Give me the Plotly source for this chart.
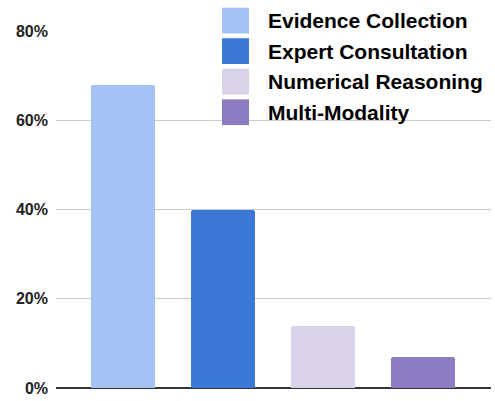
import plotly.graph_objects as go

categories = ["Evidence Collection", "Expert Consultation", "Numerical Reasoning", "Multi-Modality"]
values = [0.68, 0.40, 0.14, 0.07]
colors = ["#a4c2f4", "#3c78d8", "#d9d2e9", "#8e7cc3"]
tick_vals = [0, 0.2, 0.4, 0.6, 0.8]
tick_text = ["0%", "20%", "40%", "60%", "80%"]

W, H = 495, 401
# plot area in page pixel coordinates
PL, PR, PT, PB = 56, 491, 31, 391
ML, MR, MT, MB = PL, W - PR, PT, H - PB
PW, PH = PR - PL, PB - PT

def px_x(px):
    return (px - PL) / PW

def px_y(py):
    return (PB - py) / PH

fig = go.Figure()
for i, (cat, val, col) in enumerate(zip(categories, values, colors)):
    fig.add_trace(go.Bar(x=[i], y=[val], name=cat, marker=dict(color=col, line=dict(width=0)),
                         width=0.64, showlegend=False))

# legend drawn as shapes + text
for i, (cat, col) in enumerate(zip(categories, colors)):
    top = 7.5 + i * 30.8
    fig.add_shape(type="rect", xref="paper", yref="paper",
                  x0=px_x(222), x1=px_x(249), y0=px_y(top + 26), y1=px_y(top),
                  fillcolor=col, line=dict(width=0), layer="above")
    fig.add_annotation(xref="paper", yref="paper", x=px_x(266), y=px_y(top + 13),
                       xanchor="left", yanchor="middle", text="<b>%s</b>" % cat,
                       showarrow=False, font=dict(family="Arial", size=21, color="#000000"))

fig.update_layout(
    width=W, height=H,
    margin=dict(l=ML, r=MR, t=MT, b=MB),
    paper_bgcolor="white", plot_bgcolor="white",
    bargap=0,
    barcornerradius=3,
    xaxis=dict(range=[-0.67, 3.68], showticklabels=False, showgrid=False, zeroline=False,
               showline=False, fixedrange=True),
    yaxis=dict(range=[0, 0.8], tickvals=tick_vals, ticktext=tick_text,
               tickfont=dict(family="Arial", size=16, color="#222222", weight="bold"),
               showgrid=True, gridcolor="#cccccc", gridwidth=1,
               zeroline=True, zerolinecolor="#333333", zerolinewidth=1.5,
               showline=False, ticks="", ticklabelstandoff=7),
    font=dict(family="Arial"),
    hovermode=False,
)

fig.write_html("out.html", config={"displayModeBar": False},
               post_script="document.body.style.margin='0';document.body.style.overflow='hidden';")
